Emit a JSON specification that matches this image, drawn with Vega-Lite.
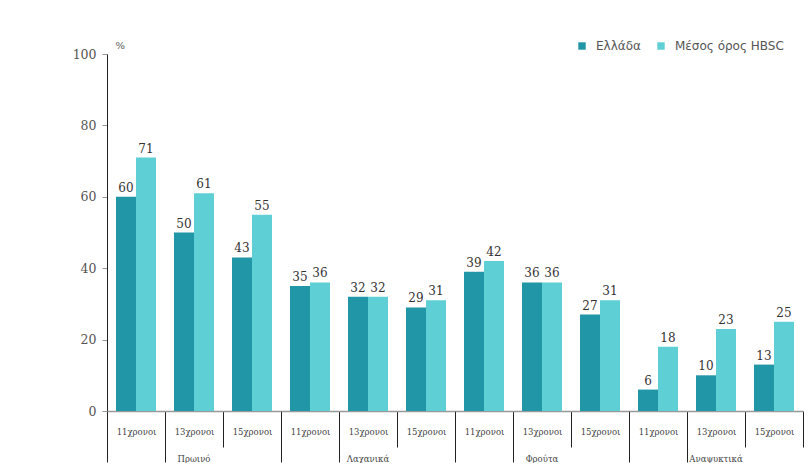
{
  "$schema": "https://vega.github.io/schema/vega-lite/v6.json",
  "padding": {"left": 72, "top": 40, "right": 5, "bottom": 0},
  "background": "white",
  "data": {"values": [
    {"cat": "Πρωινό", "age": "11χρονοι", "series": "Ελλάδα", "value": 60},
    {"cat": "Πρωινό", "age": "11χρονοι", "series": "Μέσος όρος HBSC", "value": 71},
    {"cat": "Πρωινό", "age": "13χρονοι", "series": "Ελλάδα", "value": 50},
    {"cat": "Πρωινό", "age": "13χρονοι", "series": "Μέσος όρος HBSC", "value": 61},
    {"cat": "Πρωινό", "age": "15χρονοι", "series": "Ελλάδα", "value": 43},
    {"cat": "Πρωινό", "age": "15χρονοι", "series": "Μέσος όρος HBSC", "value": 55},
    {"cat": "Λαχανικά", "age": "11χρονοι", "series": "Ελλάδα", "value": 35},
    {"cat": "Λαχανικά", "age": "11χρονοι", "series": "Μέσος όρος HBSC", "value": 36},
    {"cat": "Λαχανικά", "age": "13χρονοι", "series": "Ελλάδα", "value": 32},
    {"cat": "Λαχανικά", "age": "13χρονοι", "series": "Μέσος όρος HBSC", "value": 32},
    {"cat": "Λαχανικά", "age": "15χρονοι", "series": "Ελλάδα", "value": 29},
    {"cat": "Λαχανικά", "age": "15χρονοι", "series": "Μέσος όρος HBSC", "value": 31},
    {"cat": "Φρούτα", "age": "11χρονοι", "series": "Ελλάδα", "value": 39},
    {"cat": "Φρούτα", "age": "11χρονοι", "series": "Μέσος όρος HBSC", "value": 42},
    {"cat": "Φρούτα", "age": "13χρονοι", "series": "Ελλάδα", "value": 36},
    {"cat": "Φρούτα", "age": "13χρονοι", "series": "Μέσος όρος HBSC", "value": 36},
    {"cat": "Φρούτα", "age": "15χρονοι", "series": "Ελλάδα", "value": 27},
    {"cat": "Φρούτα", "age": "15χρονοι", "series": "Μέσος όρος HBSC", "value": 31},
    {"cat": "Αναψυκτικά", "age": "11χρονοι", "series": "Ελλάδα", "value": 6},
    {"cat": "Αναψυκτικά", "age": "11χρονοι", "series": "Μέσος όρος HBSC", "value": 18},
    {"cat": "Αναψυκτικά", "age": "13χρονοι", "series": "Ελλάδα", "value": 10},
    {"cat": "Αναψυκτικά", "age": "13χρονοι", "series": "Μέσος όρος HBSC", "value": 23},
    {"cat": "Αναψυκτικά", "age": "15χρονοι", "series": "Ελλάδα", "value": 13},
    {"cat": "Αναψυκτικά", "age": "15χρονοι", "series": "Μέσος όρος HBSC", "value": 25}
  ]},
  "facet": {
    "column": {
      "field": "cat",
      "type": "nominal",
      "sort": ["Πρωινό", "Λαχανικά", "Φρούτα", "Αναψυκτικά"],
      "header": {
        "title": null,
        "labelOrient": "bottom",
        "labelFont": "DejaVu Serif",
        "labelFontSize": 8.5,
        "labelColor": "#444444",
        "labelPadding": -8
      }
    }
  },
  "spacing": 0,
  "spec": {
    "width": 174,
    "height": 357,
    "encoding": {
      "x": {
        "field": "age",
        "type": "nominal",
        "scale": {"paddingInner": 0, "paddingOuter": 0},
        "axis": {
          "title": null,
          "labelAngle": 0,
          "tickBand": "extent",
          "tickSize": {"condition": {"test": "datum.value === '11χρονοι' || datum.extra", "value": 51}, "value": 36},
          "tickColor": "#222222",
          "domainColor": "#999999",
          "domainWidth": 1.5,
          "labelPadding": {"condition": {"test": "datum.value === '11χρονοι'", "value": -35}, "value": -20},
          "labelFont": "DejaVu Serif",
          "labelFontSize": 8.5,
          "labelColor": "#444444"
        }
      },
      "xOffset": {"field": "series", "type": "nominal", "scale": {"paddingInner": 0, "paddingOuter": 0.45}},
      "y": {
        "field": "value",
        "type": "quantitative",
        "scale": {"domain": [0, 100]},
        "axis": {
          "title": "%",
          "titleAngle": 0,
          "titleAlign": "left",
          "titleBaseline": "bottom",
          "titleX": 8,
          "titleY": -4,
          "titleFont": "DejaVu Serif",
          "titleFontSize": 10,
          "titleFontWeight": "normal",
          "titleColor": "#555555",
          "values": [0, 20, 40, 60, 80, 100],
          "grid": false,
          "domainColor": "#222222",
          "tickColor": "#999999",
          "tickSize": 5,
          "labelFont": "DejaVu Serif",
          "labelFontSize": 12.5,
          "labelColor": "#555555",
          "labelPadding": 6
        }
      }
    },
    "layer": [
      {
        "mark": {"type": "bar"},
        "encoding": {
          "color": {
            "field": "series",
            "type": "nominal",
            "scale": {"domain": ["Ελλάδα", "Μέσος όρος HBSC"], "range": ["#2196a6", "#5fcfd6"]},
            "legend": {
              "title": null,
              "orient": "none",
              "legendX": 469,
              "legendY": -14,
              "direction": "horizontal",
              "symbolType": "square",
              "symbolSize": 55,
              "symbolStrokeWidth": 0,
              "labelFont": "DejaVu Sans",
              "labelFontSize": 12,
              "labelColor": "#555555",
              "labelOffset": 8,
              "columnPadding": 14
            }
          }
        }
      },
      {
        "mark": {"type": "text", "dy": -9, "font": "DejaVu Serif", "fontSize": 12, "color": "#333333"},
        "encoding": {"text": {"field": "value", "type": "quantitative"}}
      }
    ]
  },
  "config": {"view": {"stroke": null}}
}
